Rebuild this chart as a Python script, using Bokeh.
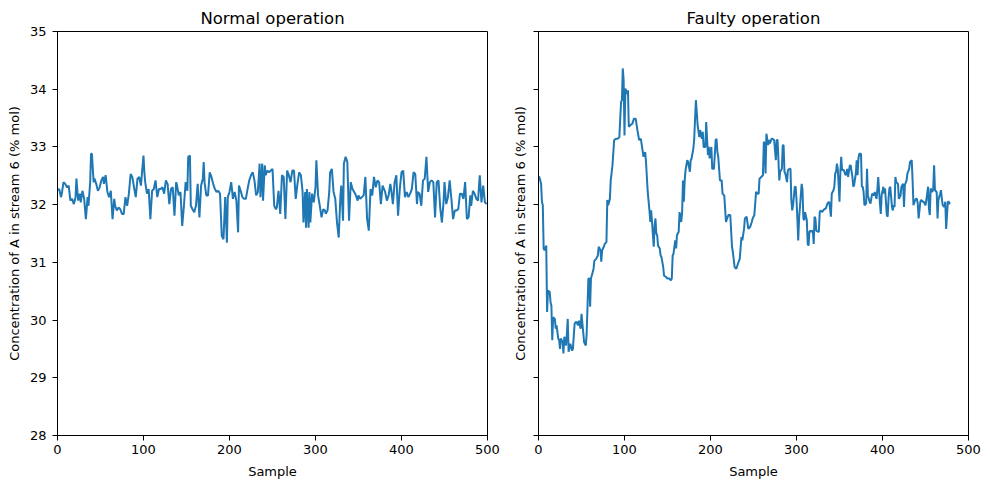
from bokeh.plotting import figure
from bokeh.layouts import row
from bokeh.models import Range1d, FixedTicker
from bokeh.embed import file_html
from bokeh.resources import INLINE

# ---------------- data ----------------
x_ticks = [0, 100, 200, 300, 400, 500]
y_ticks = [28, 29, 30, 31, 32, 33, 34, 35]

titles = ["Normal operation", "Faulty operation"]
x_label = "Sample"
y_label = "Concentration of A in stream 6 (% mol)"

# Normal operation
normal_x1 = [0,2,4,5,7,9,11,13,15,17, 19,21,22,24,26,27,29,31,33,35, 36,38,39,40,42,43,45,47,49,51,
             53,54,56,58,60,62,64,66,67,69, 71,73,75,77,79,81,83,85,87,89, 91,93,95,97,98,100,101,102,104,106,
             108,110,112,114,116,118,120,122,124,126, 128]
normal_y1 = [32.25,32.27,32.13,32.19,32.39,32.36,32.30,32.33,32.07,32.10, 32.01,32.13,32.45,32.07,32.19,32.04,32.24,32.10,31.75,32.13,
             31.98,32.39,32.88,32.88,32.39,32.45,32.36,32.24,32.30,32.42, 32.48,32.36,32.51,32.22,32.13,32.24,31.75,32.10,31.98,31.90,
             31.95,31.92,31.84,31.84,32.13,31.98,32.19,32.53,32.48,32.30, 32.13,32.45,32.48,32.33,32.51,32.85,32.56,32.39,32.19,32.27,
             31.75,32.24,32.27,32.42,32.13,32.27,32.27,32.30,32.19,32.42, 32.36]
normal_x2 = [130,132,134,136,138,139,141,143,145,147, 149,151,152,154,155,157,159,161,163,165,
             167,169,170,171,173,175,177,179,181,183, 185,187,189,191,193,195,197,198,200,202,
             204,206,208,210,211,213,215,217,219,221, 223,225,227,229,231,233,235,236,238,239, 241,242,244,246]
normal_y2 = [32.01,32.27,32.30,31.81,32.39,32.33,32.16,32.22,31.63,31.98, 32.39,32.24,32.83,32.85,31.98,31.92,31.87,31.98,32.36,31.78,
             32.33,32.45,32.74,32.39,32.16,32.16,32.56,32.48,32.36,32.27, 32.22,32.24,32.19,31.46,31.40,32.13,31.34,32.13,32.22,32.39,
             32.10,32.22,32.07,31.52,32.33,32.24,32.13,32.10,32.10,32.27, 32.42,32.51,32.56,32.42,32.16,32.22,32.71,32.13,32.71,32.07,
             32.68,32.51,32.59,32.56]
normal_x3 = [250,252,254,255,257,259,261,263,265,267, 269,271,273,275,277,279,281,283,285,286,
             288,289,290,292,293,294,296,298,300,301, 303,305,307,309,311,312,314,316,317,319,
             321,323,325,327,329,330,332,333,335,337, 339,341,343,345,347,349,350,352,354,356,
             358,360,362,364,366,368,370,372,374,376, 378]
normal_y3 = [32.62,31.98,31.92,31.95,32.24,31.84,32.51,32.48,31.75,32.59, 32.51,32.39,32.59,32.59,32.10,32.36,32.56,32.51,32.22,31.69,
             32.22,31.60,32.27,31.60,32.22,31.69,32.19,32.04,32.30,32.77, 32.16,31.98,31.78,31.92,31.90,31.84,31.90,32.22,32.56,32.62,
             32.22,32.10,31.69,31.43,32.16,32.33,31.72,32.71,32.83,32.74, 31.72,32.39,32.27,32.22,32.16,32.07,32.16,32.10,32.13,32.16,
             32.48,31.75,31.55,32.27,32.16,32.48,32.30,32.42,32.39,32.01, 32.33]
normal_x4 = [381,383,385,387,388,390,392,394,396,398, 400,402,404,406,408,410,412,414,416,418,
             419,421,423,425,427,429,431,433,435,437, 439,441,443,445,447,449,450,452,454,456,
             458,460,462,464,466,468,470,472,474,476, 478,480,481,483,485,487,489,491,493,495, 497,499]
normal_y4 = [32.22,32.07,32.16,32.36,32.27,32.01,32.39,32.51,31.81,32.27, 32.56,32.59,32.13,32.22,32.13,32.19,32.27,32.56,32.53,32.01,
             32.22,32.19,31.98,32.42,32.45,32.83,32.22,32.39,32.42,32.39, 31.78,32.39,32.42,31.95,31.69,32.07,32.39,32.01,32.13,32.42,
             32.10,31.75,31.90,31.90,31.92,32.19,32.19,32.10,32.39,31.75, 31.78,32.16,31.98,32.24,32.19,32.10,32.07,32.51,32.04,32.33,
             32.04,32.01]

# Faulty operation
faulty_x1 = [0,1,3,4,5,6,7,9,10,11, 13,14,15,16,17,19,20,21,23,24, 25,26,28,29,30,32,33,34,35,37,
             39,40,42,44,46,47,49,50,52,53, 55,56,58,59,60,61,63,64,65,67, 69,70,72,73,74,76,77,79,80,81,
             83,84,86,88,90,92,94,96,97,98, 99,100,101,103,104,105,107,109,111,113, 115,117,119,121,122,124,125,127]
faulty_y1 = [32.48,32.48,32.36,32.05,31.99,31.24,31.21,31.29,30.14,30.51, 30.49,30.31,30.25,29.65,30.05,30.02,29.85,29.91,29.68,29.65,
             29.50,29.68,29.62,29.42,29.71,29.56,29.76,30.02,29.45,29.59, 29.47,29.50,29.94,29.97,29.91,29.99,29.85,30.11,29.79,29.62,
             29.56,29.76,30.72,30.72,30.23,30.72,30.83,30.89,31.03,31.06, 31.12,31.27,31.21,31.01,31.21,31.27,31.32,31.35,32.08,31.99,
             32.10,32.42,32.68,33.12,33.14,33.14,33.17,33.78,33.81,34.36, 34.16,33.20,34.01,33.92,33.98,33.35,33.38,33.40,33.49,33.49,
             33.29,33.12,33.14,32.94,32.83,32.91,32.74,32.22]
faulty_x2 = [129,130,131,132,134,135,136,137,138,139, 141,142,143,145,146,148,150,152,154,155,
             156,157,159,160,161,163,164,166,167,168, 169,170,171,173,174,176,177,178,180,181,
             183,184,185,187,188,190,191,192,194,195, 197,198,199,201,202,204,206,207,208,209,
             211,213,214,216,218,220,221,223,225,226, 228,230,232,234,236,237,239,240,242,244, 246,248,249,251,253]
faulty_y2 = [31.90,31.70,31.90,31.70,31.27,31.64,31.76,31.50,31.47,31.29, 31.24,31.12,31.09,30.92,30.77,30.75,30.72,30.72,30.69,30.72,
             31.12,31.15,31.38,31.24,31.47,31.53,31.87,31.70,31.87,32.42, 32.05,32.42,32.60,32.77,32.74,32.57,32.77,32.80,32.97,33.12,
             33.81,33.61,33.38,33.17,33.29,33.14,33.26,33.00,33.00,33.43, 32.86,33.00,32.80,33.00,32.62,32.62,33.12,33.14,32.91,32.83,
             32.42,32.42,32.19,32.16,31.70,31.79,31.82,31.82,31.27,31.18, 30.92,30.89,30.98,31.06,31.44,31.38,31.58,31.76,31.79,31.58,
             31.61,31.70,31.76,31.82,32.22]
faulty_x3 = [255,256,257,259,261,262,263,264,265,267, 268,269,271,272,274,276,277,278,279,280,
             281,283,284,285,286,287,289,290,292,293, 294,295,296,298,299,300,301,302,303,305,
             306,307,308,309,310,312,313,314,315,316, 317,319,320,321,322,323,325,326,327,328,
             330,331,333,334,336,338,339,340,341,343, 344,345,346,347,348,350,351,352,353,354,
             355,357,358,359,360,362,363,365,366,367, 369,370,371,372,373,375,376,377,378]
faulty_y3 = [32.19,32.19,32.45,32.48,32.51,33.09,33.06,32.54,33.23,33.03, 33.12,33.06,33.14,33.14,33.12,32.77,33.12,33.12,32.77,32.42,
             32.57,32.62,33.03,33.03,32.57,32.54,32.39,32.60,32.62,32.62, 32.08,31.90,31.99,32.31,32.31,32.08,31.76,31.38,31.76,32.16,
             32.36,32.25,31.76,31.73,31.87,31.73,31.32,31.29,31.53,31.55, 31.53,31.55,31.32,31.79,31.76,31.55,31.53,31.53,31.87,31.90,
             31.87,31.90,31.93,31.93,32.02,32.05,31.93,31.79,32.19,32.25, 32.31,32.54,32.57,32.71,32.62,32.05,32.57,32.83,32.60,32.60,
             32.60,32.51,32.54,32.62,32.48,32.68,32.68,32.48,32.31,32.34, 32.54,32.77,32.51,32.80,32.88,32.88,32.31,32.31,32.22]
faulty_x4 = [379,381,382,383,385,386,388,390,391,393, 394,395,397,398,399,401,402,403,405,406,
             407,408,409,411,412,413,414,415,416,418, 419,421,422,424,425,426,428,429,431,432,
             434,435,436,438,439,440,441,442,444,445, 447,448,450,451,453,454,455,456,458,459,
             460,461,463,464,465,467,468,469,470,472, 473,474,476,477,478,479]
faulty_y4 = [31.99,32.02,32.62,32.16,32.05,32.02,32.19,32.16,32.22,32.10, 32.25,32.48,32.02,31.84,32.16,32.31,32.19,32.28,31.82,31.79,
             32.10,32.28,32.31,31.96,31.90,31.99,31.96,32.48,32.39,32.36, 32.10,32.16,32.31,32.36,31.96,32.34,32.42,32.54,32.62,32.74,
             32.77,32.42,31.99,32.08,32.10,32.10,32.02,31.76,32.05,32.08, 32.05,32.05,31.99,32.08,32.31,31.93,31.82,32.28,32.22,32.28,
             32.68,32.25,32.22,31.76,32.08,32.19,32.25,32.10,31.99,31.96, 32.05,31.58,32.05,32.05,32.02,32.02]

normal_x = normal_x1 + normal_x2 + normal_x3 + normal_x4
normal_y = normal_y1 + normal_y2 + normal_y3 + normal_y4
faulty_x = faulty_x1 + faulty_x2 + faulty_x3 + faulty_x4
faulty_y = faulty_y1 + faulty_y2 + faulty_y3 + faulty_y4

# ---------------- styling ----------------
FONT = "DejaVu Sans"
LINE_COLOR = "#1f77b4"


def make_panel(title, xs, ys, border_left, border_right, show_tick_labels):
    p = figure(frame_width=430, frame_height=404,
               x_range=Range1d(0, 500), y_range=Range1d(28, 35),
               output_backend="svg", toolbar_location=None,
               min_border_left=border_left, min_border_right=border_right,
               min_border_top=31, min_border_bottom=50)
    p.line(xs, ys, line_color=LINE_COLOR, line_width=2)

    p.title.text = title
    p.title.align = "center"
    p.title.text_font = FONT
    p.title.text_font_size = "16.5px"
    p.title.text_font_style = "normal"
    p.title.text_color = "black"
    p.title.standoff = 7

    p.xgrid.visible = False
    p.ygrid.visible = False
    p.outline_line_color = "black"
    p.outline_line_alpha = 1.0
    p.outline_line_width = 1
    p.background_fill_color = "white"
    p.border_fill_color = "white"

    p.xaxis.ticker = FixedTicker(ticks=x_ticks)
    p.yaxis.ticker = FixedTicker(ticks=y_ticks)
    for ax in (p.xaxis[0], p.yaxis[0]):
        ax.axis_line_color = "black"
        ax.major_tick_line_color = "black"
        ax.major_tick_in = 0
        ax.major_tick_out = 5
        ax.minor_tick_line_color = None
        ax.major_label_text_font = FONT
        ax.major_label_text_font_size = "13px"
        ax.major_label_text_color = "black"
        ax.axis_label_text_font = FONT
        ax.axis_label_text_font_size = "13px"
        ax.axis_label_text_font_style = "normal"
        ax.axis_label_text_color = "black"

    p.xaxis.axis_label = x_label
    p.xaxis.major_label_standoff = 4
    p.xaxis.axis_label_standoff = 7

    p.yaxis.axis_label = y_label
    if show_tick_labels:
        p.yaxis.major_label_standoff = 6
        p.yaxis.axis_label_standoff = 5
    else:
        p.yaxis.major_label_overrides = {t: "" for t in y_ticks}
        p.yaxis.major_label_standoff = 0
        p.yaxis.axis_label_standoff = 6
    return p


p1 = make_panel(titles[0], normal_x, normal_y, 57, 21, True)
p2 = make_panel(titles[1], faulty_x, faulty_y, 30, 14, False)

layout = row(p1, p2)
open("out.html", "w").write(file_html(layout, INLINE))
